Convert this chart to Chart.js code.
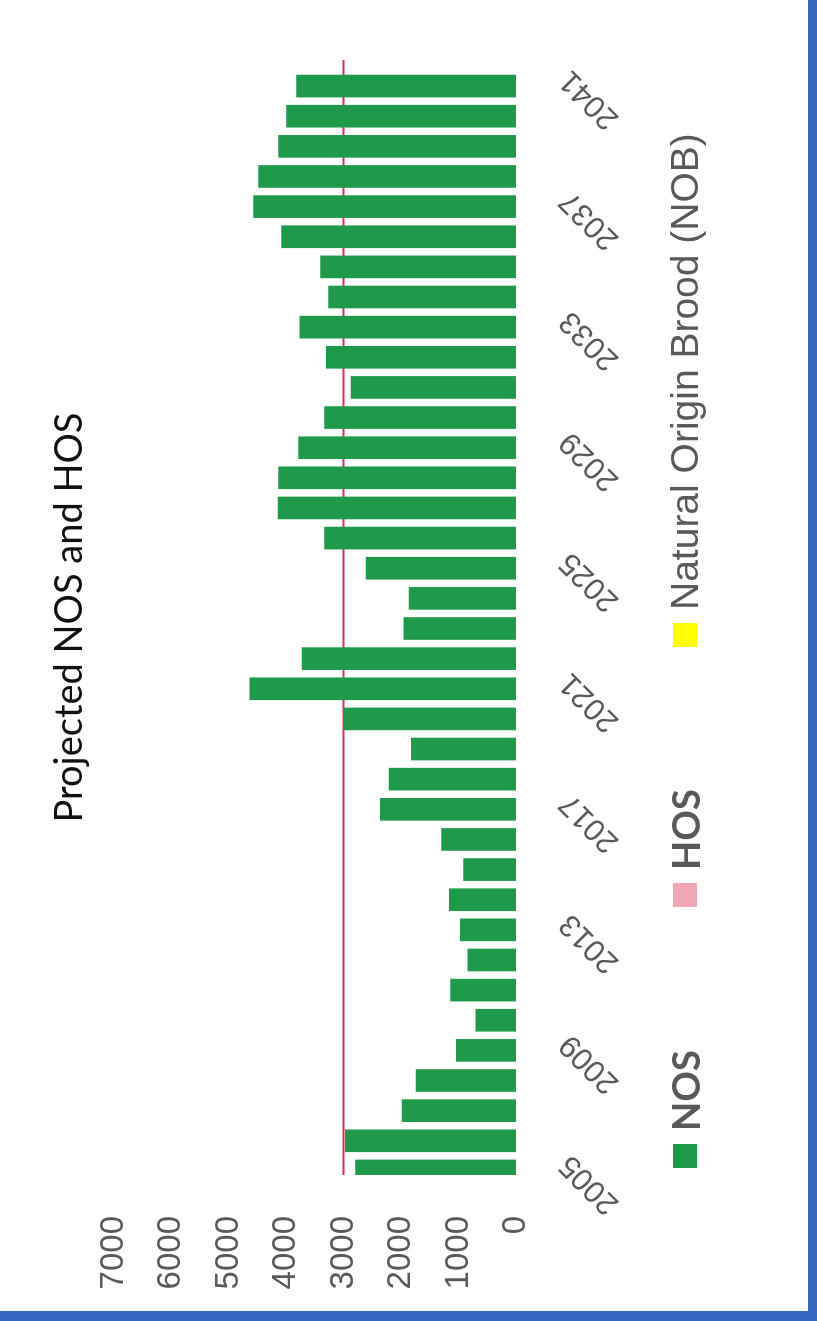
<!DOCTYPE html>
<html>
<head>
<meta charset="utf-8">
<title>Projected NOS and HOS</title>
<script src="https://cdn.jsdelivr.net/npm/chart.js"></script>
<style>
  html, body { margin: 0; padding: 0; background: #fff; }
  #page { position: relative; width: 817px; height: 1321px; overflow: hidden; background: #fff; }
  /* the scanned page is turned a quarter turn, so the chart is drawn landscape and rotated */
  #rot { position: absolute; left: 0; top: 0; width: 1321px; height: 817px;
         transform-origin: 0 0; transform: translate(0, 1321px) rotate(-90deg); }
  #legend { position: absolute; left: 0; top: 0; width: 1321px; height: 817px; pointer-events: none; }
  .item { position: absolute; top: 667px; height: 36px; display: flex; align-items: center; }
  .box { width: 24px; height: 24px; margin-right: 13px; }
  .lbl { color: #595959; white-space: nowrap; line-height: 36px; }
  #edgeR { position: absolute; right: 0; top: 0; width: 9px; height: 1321px; background: #3566c0; }
  #edgeB { position: absolute; left: 0; bottom: 0; width: 817px; height: 10px; background: #3566c0; }
</style>
</head>
<body>
<div id="page">
  <div id="rot">
    <canvas id="chart" width="1321" height="817"></canvas>
    <div id="legend"></div>
  </div>
  <div id="edgeR"></div>
  <div id="edgeB"></div>
</div>
<script>
const years = [2005, 2006, 2007, 2008, 2009, 2010, 2011, 2012, 2013, 2014, 2015, 2016, 2017,
               2018, 2019, 2020, 2021, 2022, 2023, 2024, 2025, 2026, 2027, 2028, 2029, 2030,
               2031, 2032, 2033, 2034, 2035, 2036, 2037, 2038, 2039, 2040, 2041];
const nos = [2790, 2970, 1980, 1740, 1040, 700, 1140, 840, 970, 1160, 910, 1295, 2360,
             2210, 1820, 3000, 4630, 3720, 1950, 1860, 2610, 3330, 4140, 4130, 3780, 3330,
             2870, 3300, 3760, 3260, 3400, 4080, 4565, 4480, 4130, 3990, 3815];
const hos = [];
const nob = [];
const target = [3000, 3000];
const shownYears = [2005, 2009, 2013, 2017, 2021, 2025, 2029, 2033, 2037, 2041];

// legend is html, one font per entry like the original
const legendLeft = [153, 414, 674];
const legendFont = ['bold 38px Lato', 'bold 38px Lato', '39px "Liberation Sans"'];

var chart = new Chart(document.getElementById('chart'), {
    data: {
        labels: years,
        datasets: [
            { type: 'bar', label: 'NOS', data: nos, backgroundColor: '#1f9a4b', stack: 's' },
            { type: 'bar', label: 'HOS', data: hos, backgroundColor: '#f2a7b6', stack: 's' },
            { type: 'bar', label: 'Natural Origin Brood (NOB)', data: nob, backgroundColor: '#ffff00', stack: 's' },
            {
                type: 'line', label: 'target', xAxisID: 'x2',
                data: target.map((v, i) => ({ x: i * years.length, y: v })),
                borderColor: '#dc2f55', borderWidth: 2, pointRadius: 0
            }
        ]
    },
    options: {
        responsive: false,
        animation: false,
        layout: { padding: { left: 20, right: 60, top: 0, bottom: 181 } },
        datasets: { bar: { barThickness: 22 } },
        plugins: {
            legend: { display: false },
            tooltip: { enabled: false },
            title: {
                display: true,
                fullSize: false,
                text: 'Projected NOS and HOS',
                color: '#111',
                font: { family: 'Lato', size: 38, weight: 'normal' },
                padding: { top: 47, bottom: 21 }
            }
        },
        scales: {
            x: {
                stacked: true,
                grid: { display: false, drawTicks: false },
                border: { display: false },
                ticks: {
                    autoSkip: false, minRotation: 45, maxRotation: 45, padding: 36,
                    color: '#595959', font: { family: 'Liberation Sans', size: 31 },
                    callback: function(v, i) { return shownYears.includes(years[i]) ? years[i] : ''; }
                },
                afterFit: function(s) { s.height = 120; }
            },
            x2: { type: 'linear', display: false, min: 0, max: years.length },
            y: {
                stacked: true, min: 0, max: 7000,
                grid: { display: false, drawTicks: false },
                border: { display: false },
                ticks: {
                    stepSize: 1000, padding: 41, color: '#595959',
                    font: { family: 'Liberation Sans', size: 33 },
                    callback: function(v) { return String(v); }
                },
                afterFit: function(s) { s.width = 126; }
            }
        }
    }
});

var legend = document.getElementById('legend');
chart.data.datasets.filter(d => d.type === 'bar').forEach(function(d, i) {
    var item = document.createElement('div');
    item.className = 'item';
    item.style.left = legendLeft[i] + 'px';
    var box = document.createElement('div');
    box.className = 'box';
    box.style.background = d.backgroundColor;
    var lbl = document.createElement('span');
    lbl.className = 'lbl';
    lbl.style.font = legendFont[i];
    lbl.textContent = d.label;
    item.appendChild(box);
    item.appendChild(lbl);
    legend.appendChild(item);
});
</script>
</body>
</html>
